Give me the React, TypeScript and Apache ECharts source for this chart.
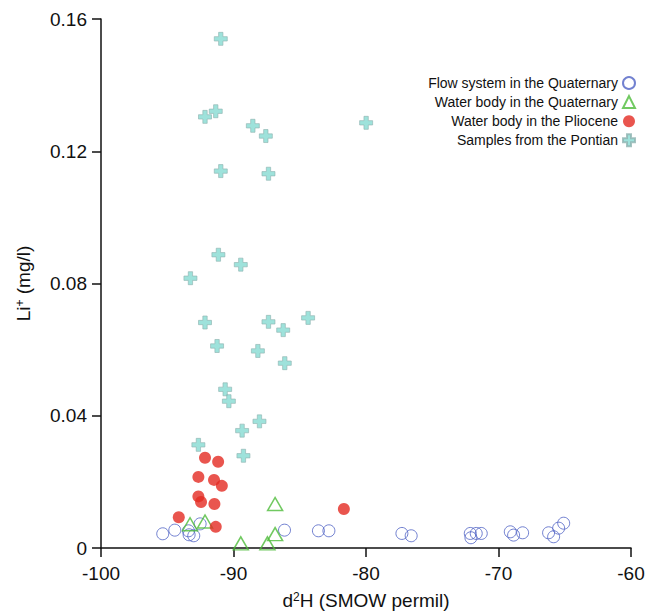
import React, { useEffect, useRef } from "react";
import * as echarts from "echarts";

const FONT = "'Liberation Sans', Arial, sans-serif";

const seriesNames = [
  "Flow system in the Quaternary",
  "Water body in the Quaternary",
  "Water body in the Pliocene",
  "Samples from the Pontian",
];

const flowSystemQuaternary: [number, number][] = [
  [-95.34, 0.0043], [-94.43, 0.0054], [-93.4, 0.0052], [-93.35, 0.004],
  [-93.0, 0.0037], [-92.52, 0.0073], [-86.15, 0.0054], [-83.59, 0.0052],
  [-82.8, 0.0052], [-77.29, 0.0044], [-76.59, 0.0037], [-72.13, 0.0044],
  [-72.08, 0.0031], [-71.68, 0.0044], [-71.3, 0.0044], [-69.11, 0.0049],
  [-68.86, 0.0039], [-68.18, 0.0046], [-66.22, 0.0046], [-65.84, 0.0034],
  [-65.46, 0.006], [-65.08, 0.0075],
];

const waterBodyQuaternary: [number, number][] = [
  [-93.28, 0.0072], [-92.15, 0.008], [-86.86, 0.0133], [-86.86, 0.0042],
  [-89.45, 0.0014], [-87.44, 0.0014],
];

const waterBodyPliocene: [number, number][] = [
  [-92.15, 0.0273], [-91.16, 0.0261], [-92.65, 0.0215], [-91.47, 0.0206],
  [-90.88, 0.0188], [-92.65, 0.0156], [-92.45, 0.0139], [-91.44, 0.0133],
  [-94.13, 0.0093], [-91.34, 0.0064], [-81.67, 0.0118],
];

const pontianSamples: [number, number][] = [
  [-90.96, 0.154], [-91.34, 0.1321], [-92.15, 0.1304], [-88.54, 0.1277],
  [-87.56, 0.1246], [-79.99, 0.1286], [-90.96, 0.114], [-87.36, 0.1132],
  [-91.14, 0.0887], [-89.45, 0.0857], [-93.25, 0.0816], [-92.15, 0.0682],
  [-87.36, 0.0684], [-86.25, 0.0659], [-84.37, 0.0696], [-91.24, 0.0611],
  [-88.16, 0.0596], [-86.13, 0.0559], [-90.63, 0.048], [-90.35, 0.0444],
  [-88.04, 0.0383], [-89.35, 0.0355], [-92.65, 0.0312], [-89.25, 0.0279],
];

const xMin = -100;
const xMax = -60;
const xStep = 10;
const yMin = 0;
const yMax = 0.16;
const yStep = 0.04;

const CROSS = "path://M4,0h4v4h4v4h-4v4h-4v-4h-4v-4h4z";

export default function App() {
  const ref = useRef<HTMLDivElement>(null);
  useEffect(() => {
    if (!ref.current) return;
    const chart = echarts.init(ref.current, null, { renderer: "svg" });
    const axisCommon = {
      axisLine: { show: true, onZero: false, lineStyle: { color: "#111", width: 1.5 } },
      axisTick: { show: true, inside: false, length: 9, lineStyle: { color: "#111", width: 1.5 } },
      splitLine: { show: false },
    };
    chart.setOption({
      animation: false,
      backgroundColor: "#fff",
      textStyle: { fontFamily: FONT },
      grid: { left: 101, right: 16, top: 19, bottom: 67, containLabel: false, outerBoundsMode: "none" },
      legend: {
        orient: "vertical",
        right: 6,
        top: 71,
        align: "right",
        itemWidth: 12,
        itemHeight: 12,
        itemGap: 5.1,
        textStyle: { fontFamily: FONT, fontSize: 14, color: "#111" },
        data: [
          { name: seriesNames[0], icon: "circle" },
          { name: seriesNames[1], icon: "triangle" },
          { name: seriesNames[2], icon: "circle" },
          { name: seriesNames[3], icon: CROSS },
        ],
      },
      xAxis: {
        type: "value",
        min: xMin,
        max: xMax,
        interval: xStep,
        ...axisCommon,
        axisLabel: { fontFamily: FONT, fontSize: 19, color: "#111", margin: 16 },
        name: "{a|d}{s|2}{a|H (SMOW permil)}",
        nameLocation: "middle",
        nameGap: 43,
        nameTextStyle: {
          rich: {
            a: { fontFamily: FONT, fontSize: 19, color: "#111" },
            s: { fontFamily: FONT, fontSize: 12, color: "#111", verticalAlign: "top", padding: [0, 0, 6, 0] },
          },
        },
      },
      yAxis: {
        type: "value",
        min: yMin,
        max: yMax,
        interval: yStep,
        ...axisCommon,
        axisLabel: { fontFamily: FONT, fontSize: 19, color: "#111", margin: 14 },
        name: "{a|Li}{s|+}{a| (mg/l)}",
        nameLocation: "middle",
        nameGap: 68,
        nameRotate: 90,
        nameTextStyle: {
          rich: {
            a: { fontFamily: FONT, fontSize: 19, color: "#111" },
            s: { fontFamily: FONT, fontSize: 12, color: "#111", verticalAlign: "top", padding: [0, 0, 6, 0] },
          },
        },
      },
      series: [
        {
          name: seriesNames[0],
          type: "scatter",
          symbol: "circle",
          symbolSize: 12,
          data: flowSystemQuaternary,
          itemStyle: { color: "rgba(255,255,255,0)", borderColor: "#4f62c4", borderWidth: 1 },
          z: 2,
        },
        {
          name: seriesNames[1],
          type: "scatter",
          symbol: "triangle",
          symbolSize: [15, 13],
          data: waterBodyQuaternary,
          itemStyle: { color: "rgba(255,255,255,0)", borderColor: "#4dbb3a", borderWidth: 1.5 },
          z: 3,
        },
        {
          name: seriesNames[2],
          type: "scatter",
          symbol: "circle",
          symbolSize: 12,
          data: waterBodyPliocene,
          itemStyle: { color: "#e32b22" },
          z: 4,
        },
        {
          name: seriesNames[3],
          type: "scatter",
          symbol: CROSS,
          symbolSize: 13,
          data: pontianSamples,
          itemStyle: { color: "#86dbd2", borderColor: "#8fb3b0", borderWidth: 0.8 },
          z: 5,
        },
      ],
    });
    return () => chart.dispose();
  }, []);
  return <div ref={ref} style={{ width: 647, height: 615, position: "absolute", left: 0, top: 0 }} />;
}
